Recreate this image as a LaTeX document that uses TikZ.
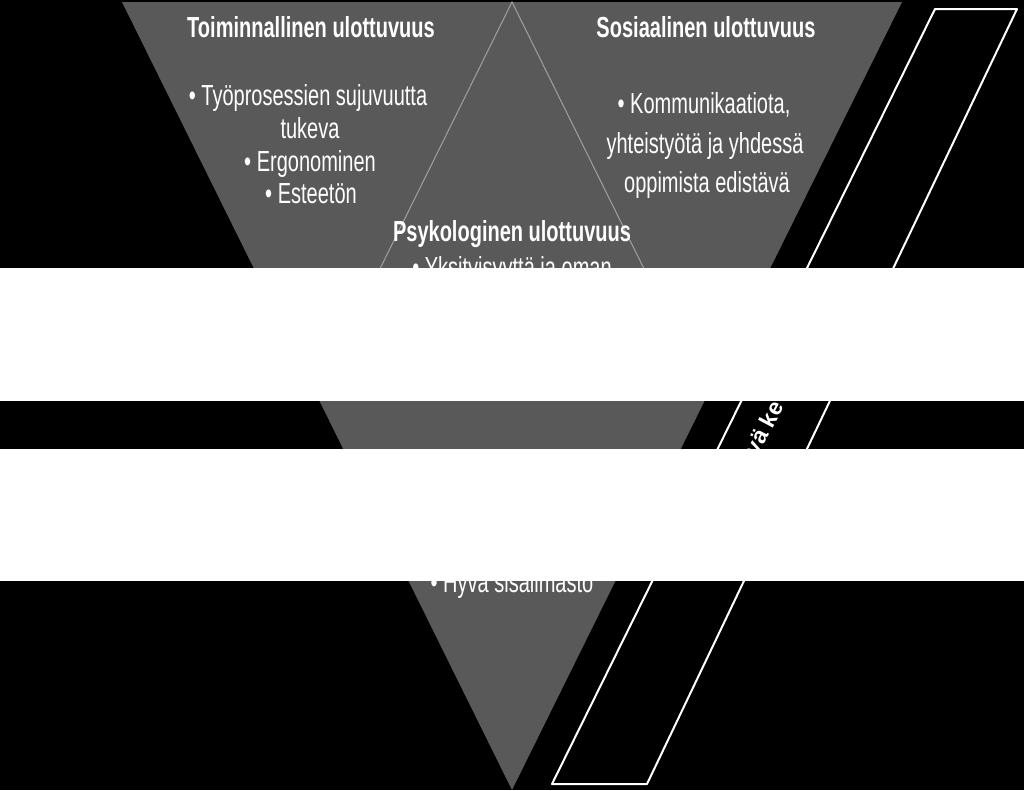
\documentclass[tikz,border=0pt]{standalone}
\usepackage{fontspec}
\setmainfont{Liberation Sans}
\newfontfamily\narrowfont{Liberation Sans}[FakeStretch=0.69]
\definecolor{trigray}{RGB}{89,89,89}
\definecolor{linegray}{RGB}{160,160,160}
\tikzset{
  txt/.style={text=white, inner sep=0pt, anchor=base, font=\narrowfont\fontsize{21.75pt}{26pt}\selectfont},
  ttl/.style={txt, font=\narrowfont\bfseries\fontsize{21.75pt}{26pt}\selectfont},
  band/.style={fill=white, draw=none},
  frame/.style={draw=white, line width=1.5pt, line join=round, fill=black},
  slant/.style={text=white, inner sep=0pt, font=\bfseries\fontsize{17.25pt}{20pt}\selectfont, rotate=62}
}
\begin{document}
\begin{tikzpicture}[x=0.75pt, y=-0.75pt]
\useasboundingbox (0,0) rectangle (1024,790);
\fill[black] (0,0) rectangle (1024,790);
% big inverted triangle
\fill[trigray] (122,2) coordinate (tl) -- (902,2) coordinate (tr) -- (512,790) coordinate (bt) -- cycle;
% inner upright triangle lines
\coordinate (itop) at (512,2);
\coordinate (ileft) at (317,396);
\coordinate (iright) at (707,396);
\draw[linegray, line width=0.75pt] (ileft) -- (itop) -- (iright);
% Toiminnallinen
\node[ttl] (t1) at (311,37) {Toiminnallinen ulottuvuus};
\node[txt] (t2) at (308,105) {• Työprosessien sujuvuutta};
\node[txt] (t3) at (310,138) {tukeva};
\node[txt] (t4) at (310,171) {• Ergonominen};
\node[txt] (t5) at (311,203) {• Esteetön};
% Sosiaalinen
\node[ttl] (s1) at (706,37) {Sosiaalinen ulottuvuus};
\node[txt] (s2) at (704,113) {• Kommunikaatiota,};
\node[txt] (s3) at (705,153) {yhteistyötä  ja yhdessä};
\node[txt] (s4) at (707,192) {oppimista edistävä};
% Psykologinen
\node[ttl] (p1) at (512,241) {Psykologinen ulottuvuus};
\node[txt] (p2) at (512,277) {• Yksityisyyttä  ja oman};
\node[txt] (p3) at (512,592) {• Hyvä  sisäilmasto};
% parallelogram
\draw[frame] (935,9) coordinate (pa) -- (1017,9) coordinate (pb) -- (647,784) coordinate (pc) -- (552,784) coordinate (pd) -- cycle;
\node[slant] (k) at (764,428) {vä ke};
% white bands
\fill[band] (0,268) rectangle (1024,401);
\fill[band] (0,449) rectangle (1024,581);
\end{tikzpicture}
\end{document}
